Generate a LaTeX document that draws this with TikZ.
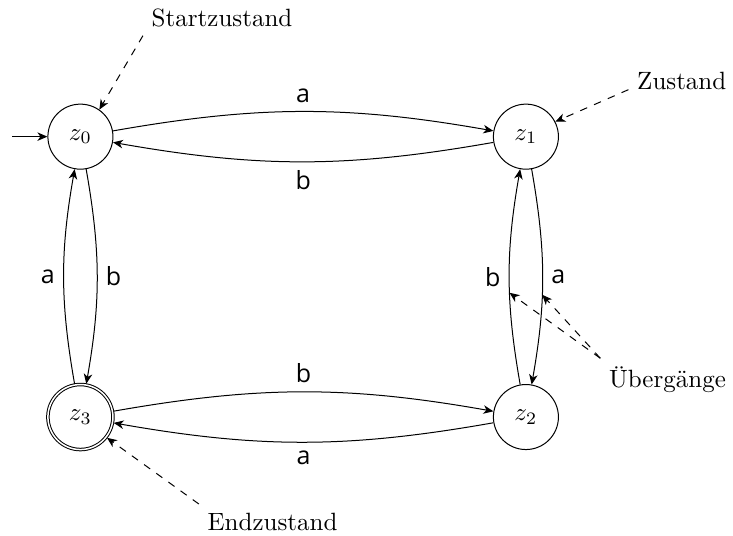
\documentclass[tikz,border=0pt]{standalone}
\usepackage{fontspec}
\newfontfamily\edgefont{Open Sans}
\usetikzlibrary{automata,arrows.meta}

\begin{document}
\begin{tikzpicture}[->, >={Stealth[length=4pt, width=3.4pt, inset=1.2pt]}, auto,
    initial text={}, initial distance=14pt,
    every state/.style={minimum size=26pt, inner sep=0pt},
    lbl/.style={font=\edgefont},
    note/.style={dashed}]
    \useasboundingbox (-1.13,1.92) rectangle (9.17,-5.60);

    % states
    \node[state, initial] (z0) at (0,0) {$z_0$};
    \node[state] (z1) at (6.26,0) {$z_1$};
    \node[state] (z2) at (6.26,-3.94) {$z_2$};
    \node[state, accepting] (z3) at (0,-3.94) {$z_3$};

    % transitions
    \path (z0) edge[bend left=10] node[lbl] {a} (z1)
          (z1) edge[bend left=10] node[lbl] {b} (z0)
          (z1) edge[bend left=10] node[lbl] {a} node[coordinate, pos=.59] (amark) {} (z2)
          (z2) edge[bend left=10] node[lbl] {b} node[coordinate, pos=.42] (bmark) {} (z1)
          (z3) edge[bend left=10] node[lbl] {b} (z2)
          (z2) edge[bend left=10] node[lbl] {a} (z3)
          (z0) edge[bend left=10] node[lbl] {b} (z3)
          (z3) edge[bend left=10] node[lbl] {a} (z0);

    % annotations
    \node (start) at (1.99,1.67) {Startzustand};
    \node (zus) at (8.45,0.78) {Zustand};
    \node (ueb) at (8.25,-3.42) {Übergänge};
    \node (end) at (2.70,-5.41) {Endzustand};

    \draw[note] (start.south west) -- (z0.55);
    \draw[note] (zus.base west) -- (z1.27);
    \draw[note] (ueb.north west) -- (bmark);
    \draw[note] (ueb.north west) -- (amark);
    \draw[note] (end.north west) -- (z3.-38);
\end{tikzpicture}
\end{document}
